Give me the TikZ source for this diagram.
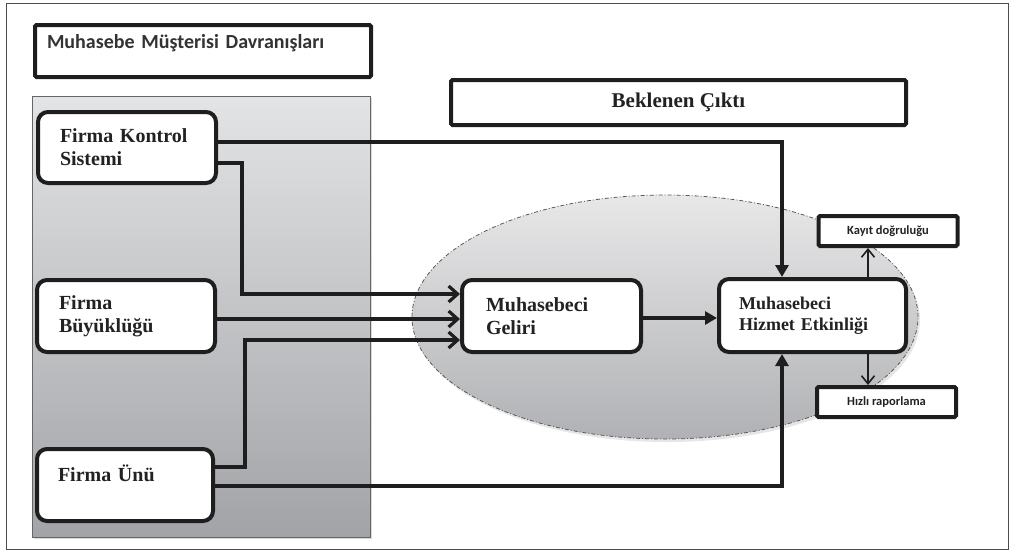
\documentclass[tikz,border=0pt]{standalone}
\usepackage{fontspec}
\setmainfont{Liberation Serif}
\newfontfamily\calfont{Carlito}
\usetikzlibrary{shapes.geometric,arrows.meta,calc,shadows}
\definecolor{ink}{HTML}{1E1E1E}
\definecolor{txt}{HTML}{222222}
\definecolor{paneltop}{HTML}{E3E4E6}
\definecolor{panelbot}{HTML}{A2A3A6}
\definecolor{elltop}{HTML}{E8E8E9}
\definecolor{ellbot}{HTML}{B0B1B4}
\tikzset{
  rbox/.style={draw=ink, line width=4pt, rounded corners=10pt, fill=white, align=left,
    text=txt, font=\bfseries\fontsize{20}{23}\selectfont, inner ysep=0pt},
  sbox/.style={draw=ink, line width=4pt, rounded corners=1.5pt, fill=white, inner sep=0pt},
  conn/.style={draw=ink, line width=3.2pt},
  barb/.style={-{Straight Barb[length=9pt,width=16pt]}},
  tri/.style={-{Triangle[length=12pt,width=13pt]}},
  thinarrow/.style={draw=ink, line width=1.6pt, -{Straight Barb[length=8pt,width=13pt]}},
  smalltext/.style={font=\calfont\bfseries\fontsize{12.5}{14}\selectfont, text=txt}
}
\begin{document}
\begin{tikzpicture}[x=1pt,y=-1pt]
\useasboundingbox (0,0) rectangle (1011,555);
% outer frame
\draw[draw=black!70, line width=1pt] (6,3) rectangle (1008,549);
% title
\node[sbox, minimum width=336pt, minimum height=52pt, text width=312pt, inner xsep=12pt,
  align=left, font=\calfont\bfseries\fontsize{20}{20}\selectfont, text=black!80]
  (title) at (203,51) {Muhasebe Müşterisi Davranışları\\\phantom{M}};
% left panel
\node[draw=black!60, line width=0.8pt, top color=paneltop, bottom color=panelbot,
  minimum width=338pt, minimum height=441pt, inner sep=0pt,
  drop shadow={shadow xshift=2pt, shadow yshift=-2pt, opacity=0.3}]
  (panel) at (201,316.5) {};
% group ellipse
\node[ellipse, draw=black!65, line width=0.8pt, dash pattern=on 4pt off 2pt on 1pt off 2pt,
  top color=elltop, bottom color=ellbot, minimum width=506pt, minimum height=244pt, inner sep=0pt,
  drop shadow={shadow xshift=2pt, shadow yshift=-3pt, opacity=0.2}]
  (grp) at (665,317) {};
% expected output
\node[sbox, minimum width=455pt, minimum height=45pt,
  font=\bfseries\fontsize{21}{24}\selectfont, text=txt] (bek) at (678.5,102.5) {Beklenen Çıktı};
% left boxes
\node[rbox, minimum width=178pt, minimum height=71pt, text width=134pt, inner xsep=22pt]
  (kontrol) at (127,147.5) {Firma Kontrol\\Sistemi};
\node[rbox, minimum width=178pt, minimum height=72pt, text width=134pt, inner xsep=22pt]
  (buyuk) at (126,316) {Firma\\Büyüklüğü};
\node[rbox, minimum width=176pt, minimum height=72pt, text width=134pt, inner xsep=21pt]
  (unu) at (125,485) {Firma Ünü\\\phantom{F}};
% middle boxes
\node[rbox, minimum width=179pt, minimum height=72pt, text width=131pt, inner xsep=24pt]
  (geliri) at (551.5,316) {Muhasebeci\\Geliri};
\node[rbox, minimum width=187pt, minimum height=73pt, text width=147pt, inner xsep=20pt,
  font=\bfseries\fontsize{18}{20.5}\selectfont]
  (hizmet) at (812.5,315.5) {Muhasebeci\\Hizmet Etkinliği};
% outcome boxes
\node[sbox, minimum width=139pt, minimum height=30pt, smalltext] (kayit) at (888,231) {Kayıt doğruluğu};
\node[sbox, minimum width=139pt, minimum height=30pt, smalltext] (hizli) at (886.5,402) {Hızlı raporlama};
% connectors
\draw[conn, tri] ($(kontrol.east)+(0,-5.5)$) -| ($(hizmet.north)+(-30.5,0)$);
\draw[conn, barb] ($(kontrol.east)+(0,15.5)$) -- ++(24,0) |- ($(geliri.west)+(0,-22)$);
\draw[conn, barb] ($(buyuk.east)+(0,3)$) -- ($(geliri.west)+(0,3)$);
\draw[conn, barb] ($(unu.east)+(0,-18)$) -- ++(30,0) |- ($(geliri.west)+(0,24)$);
\draw[conn, tri] ($(unu.east)+(0,1)$) -| ($(hizmet.south)+(-30.5,0)$);
\draw[conn, tri] ($(geliri.east)+(0,2)$) -- ($(hizmet.west)+(0,2.5)$);
\coordinate (k1) at ($(hizmet.north)+(55.5,0)$);
\coordinate (k2) at ($(hizmet.south)+(55.5,0)$);
\draw[thinarrow] (k1) -- (k1 |- kayit.south);
\draw[thinarrow] (k2) -- (k2 |- hizli.north);
\end{tikzpicture}
\end{document}
